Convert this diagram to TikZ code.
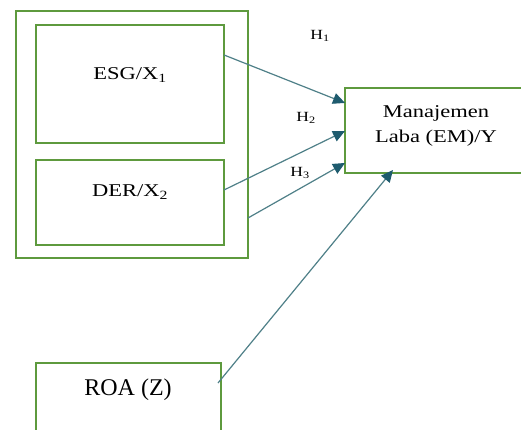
\documentclass[tikz,border=0pt]{standalone}
\usepackage{fontspec}
\setmainfont{Liberation Serif}
\newfontfamily\widefont[FakeStretch=1.25]{Liberation Serif}
\usetikzlibrary{arrows.meta,calc}
\definecolor{boxgreen}{HTML}{5E9A3E}
\definecolor{arrline}{HTML}{4F8088}
\definecolor{arrtip}{HTML}{1E5B6E}
\tikzset{
  box/.style={draw=boxgreen, line width=1.9pt, fill=none, inner sep=0pt, outer sep=0pt},
  lbl/.style={inner sep=0pt, text=black, font=\widefont\fontsize{18}{25}\selectfont},
  hlbl/.style={inner sep=0pt, text=black, font=\widefont\fontsize{14}{16}\selectfont},
  conn/.style={draw=arrline, line width=1.2pt, -{Triangle[length=12pt,width=11pt,color=arrtip]}}
}
\begin{document}
\begin{tikzpicture}[x=1pt,y=-1pt]
\useasboundingbox[fill=white] (0,0) rectangle (521,430);
\node[box, minimum width=232pt, minimum height=247pt] (outer) at (132,134.5) {};
\node[box, minimum width=188pt, minimum height=118pt] (esg) at (130,84) {};
\node[box, minimum width=188pt, minimum height=85pt] (der) at (130,202.5) {};
\node[box, minimum width=179pt, minimum height=85pt] (Y) at (434.5,130.5) {};
\node[box, minimum width=185pt, minimum height=74pt] (roa) at (128.5,400) {};
\node[lbl] (esgt) at (130,75) {ESG/X\textsubscript{1}};
\node[lbl] (dert) at (130,192) {DER/X\textsubscript{2}};
\node[lbl, align=center] (yt) at (436,126) {Manajemen\\Laba (EM)/Y};
\node[inner sep=0pt, text=black, font=\fontsize{24}{28}\selectfont] (roat) at (128,390) {ROA (Z)};
\node[hlbl] (h1) at (320,36) {H\textsubscript{1}};
\node[hlbl] (h2) at (306,118) {H\textsubscript{2}};
\node[hlbl] (h3) at (300,173) {H\textsubscript{3}};
\draw[conn] ($(esg.north east)!0.254!(esg.south east)$) -- ($(Y.north west)!0.176!(Y.south west)$);
\draw[conn] ($(der.north east)!0.353!(der.south east)$) -- ($(Y.north west)!0.506!(Y.south west)$);
\draw[conn] ($(outer.north east)!0.838!(outer.south east)$) -- ($(Y.north west)!0.882!(Y.south west)$);
\draw[conn] ($(roa.north east)+(-3,20)$) -- ($(Y.south west)+(48,-3)$);
\end{tikzpicture}
\end{document}
